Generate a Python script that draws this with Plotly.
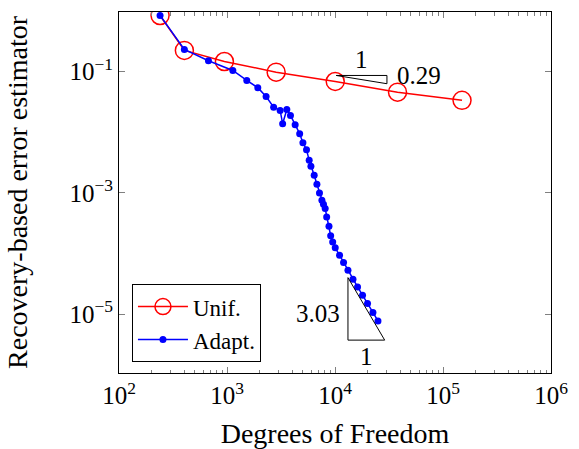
import numpy as np
import plotly.graph_objects as go

# Data
unif_dof = [240, 403, 946, 2852, 10050, 37930, 150000]
unif_err = [0.835, 0.222, 0.146, 0.0974, 0.0684, 0.0456, 0.0334]

adapt_dof = [240, 403, 673, 1132, 1525, 1928, 2301, 2703, 3105, 3275, 3581, 3870,
             4277, 4709, 5046, 5447, 5768, 5984, 6417, 6799, 7183, 7563, 7822, 8110,
             8373, 8796, 9120, 9520, 10050, 11020, 12000, 13180, 14670, 16170, 17990,
             20010, 22450, 24990]
adapt_err = [0.835, 0.230, 0.150, 0.1038, 0.0711, 0.0540, 0.0387, 0.0258, 0.0228,
             0.01377, 0.02366, 0.01887, 0.01327, 0.00942, 0.00670, 0.00514, 0.00343,
             0.00273, 0.00194, 0.00138, 0.000991, 0.000753, 0.000647, 0.000550,
             0.000400, 0.000281, 0.000196, 0.000155, 0.000124, 9.36e-5, 7.09e-5,
             5.30e-5, 3.77e-5, 2.81e-5, 2.05e-5, 1.50e-5, 1.06e-5, 7.74e-6]

unif_slope = 0.29
adapt_slope = 3.03

x_tickvals = [1e2, 1e3, 1e4, 1e5, 1e6]
x_ticktext = ["10<sup>2</sup>", "10<sup>3</sup>", "10<sup>4</sup>", "10<sup>5</sup>", "10<sup>6</sup>"]
y_tickvals = [1e-1, 1e-3, 1e-5]
y_ticktext = ["10<sup>−1</sup>", "10<sup>−3</sup>", "10<sup>−5</sup>"]

FONT = "Liberation Serif"
fig = go.Figure()

fig.add_trace(go.Scatter(x=unif_dof, y=unif_err, mode="lines+markers", name="Unif.",
                         line=dict(color="#ff0000", width=1.5),
                         marker=dict(symbol="circle-open", size=18, color="#ff0000",
                                     line=dict(width=1.5, color="#ff0000"))))
fig.add_trace(go.Scatter(x=adapt_dof, y=adapt_err, mode="lines+markers", name="Adapt.",
                         line=dict(color="#0000ff", width=1.5),
                         marker=dict(symbol="circle", size=7, color="#0000ff")))

# slope triangles
ux0, uy0, uw = 10**4.011, 10**-1.066, 0.47
tri_u_x = [ux0, ux0 * 10**uw, ux0 * 10**uw, ux0]
tri_u_y = [uy0, uy0, uy0 * 10**(-unif_slope * uw), uy0]
ax0, ay0, aw = 10**4.12, 10**-5.428, 0.34
tri_a_x = [ax0, ax0 * 10**aw, ax0, ax0]
tri_a_y = [ay0, ay0, ay0 * 10**(adapt_slope * aw), ay0]
for tx, ty in [(tri_u_x, tri_u_y), (tri_a_x, tri_a_y)]:
    fig.add_trace(go.Scatter(x=tx, y=ty, mode="lines", showlegend=False,
                             line=dict(color="black", width=1), hoverinfo="skip"))

ann_font = dict(family=FONT, size=25, color="black")
fig.add_annotation(x=np.log10(ux0) + uw / 2, y=np.log10(uy0), text="1", showarrow=False,
                   yanchor="bottom", xanchor="center", yshift=0, font=ann_font)
fig.add_annotation(x=np.log10(ux0) + uw, y=np.log10(uy0), text="0.29", showarrow=False,
                   yanchor="middle", xanchor="left", xshift=8, yshift=0, font=ann_font)
fig.add_annotation(x=np.log10(ax0), y=np.log10(ay0) + adapt_slope * aw / 2, text="3.03",
                   showarrow=False, xanchor="right", yanchor="middle", xshift=-6, yshift=-5,
                   font=ann_font)
fig.add_annotation(x=np.log10(ax0) + aw / 2, y=np.log10(ay0), text="1", showarrow=False,
                   xanchor="center", yanchor="top", yshift=-1, font=ann_font)

axis_common = dict(type="log", showgrid=False, zeroline=False, showline=True,
                   linecolor="black", linewidth=1, mirror="ticks", ticks="inside",
                   tickcolor="#808080", ticklen=6, tickwidth=1, automargin=False,
                   tickfont=dict(family=FONT, size=25, color="black"))

fig.update_xaxes(**axis_common, range=[2, 6], tickvals=x_tickvals, ticktext=x_ticktext,
                 minor=dict(ticks="inside", ticklen=3.5, tickcolor="#808080", dtick="D1", showgrid=False),
                 title=dict(text="Degrees of Freedom", font=dict(family=FONT, size=28, color="black"),
                            standoff=18))
fig.update_yaxes(**axis_common, range=[-5.97, -0.02], tickvals=y_tickvals, ticktext=y_ticktext,
                 title=dict(text="Recovery-based error estimator",
                            font=dict(family=FONT, size=28, color="black"), standoff=33))

fig.update_layout(width=579, height=449, margin=dict(l=119, r=28, t=12, b=76),
                  plot_bgcolor="white", paper_bgcolor="white",
                  legend=dict(x=0.03, y=0.03, xanchor="left", yanchor="bottom",
                              bordercolor="black", borderwidth=1, bgcolor="white",
                              itemwidth=50,
                              font=dict(family=FONT, size=23, color="black")))

fig.write_html("out.html")
